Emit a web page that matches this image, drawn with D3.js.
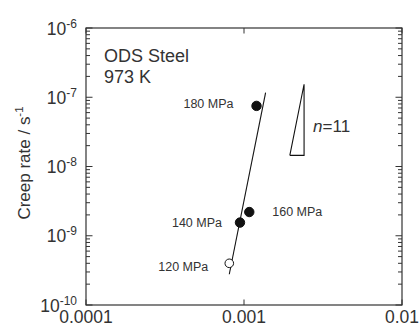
<!DOCTYPE html>
<html>
<head>
<meta charset="utf-8">
<script src="https://cdn.jsdelivr.net/npm/d3@7"></script>
<style>
	body { margin: 0; background: #fff; }
	text { font-family: "Liberation Sans", Arial, sans-serif; fill: #333; }
</style>
</head>
<body>
<div id="chart"></div>
<script>
const WIDTH = 419, HEIGHT = 331;
const MARGIN = {top: 28, right: 17, bottom: 26, left: 86};

// data
const stressLabels = ["180 MPa", "160 MPa", "140 MPa", "120 MPa"];
const xValues = [0.00120, 0.00108, 0.000943, 0.000807];
const creepRate = [7.5e-8, 2.2e-9, 1.55e-9, 4.0e-10];
const filled = [true, true, true, false];
const fitX = [0.000807, 0.00137];
const fitY = [2.78e-10, 1.17e-7];
const slopeX = [0.00195, 0.00240];
const slopeY = [1.45e-8, 1.54e-7];
const xTicks = [0.0001, 0.001, 0.01];
const xTickLabels = ["0.0001", "0.001", "0.01"];
const yTicks = [1e-10, 1e-9, 1e-8, 1e-7, 1e-6];
const yTickExps = ["-10", "-9", "-8", "-7", "-6"];

// where each label sits relative to its point
const labelPlace = [
	{anchor: "end", dx: -23, dy: -2},
	{anchor: "start", dx: 23, dy: 0},
	{anchor: "end", dx: -18, dy: 0},
	{anchor: "end", dx: -21, dy: 3}
];

const w = WIDTH - MARGIN.left - MARGIN.right;
const h = HEIGHT - MARGIN.top - MARGIN.bottom;

const x = d3.scaleLog().domain([0.0001, 0.01]).range([0, w]);
const y = d3.scaleLog().domain([1e-10, 1e-6]).range([h, 0]);

const svg = d3.select("#chart").append("svg")
	.attr("width", WIDTH)
	.attr("height", HEIGHT);
const g = svg.append("g")
	.attr("transform", `translate(${MARGIN.left},${MARGIN.top})`);

// minor ticks on y, 2..9 in every decade
const yMinor = [];
for (let e = -10; e < -6; e++) {
	for (let m = 2; m <= 9; m++) yMinor.push(m * Math.pow(10, e));
}

// left and right ticks (inward)
[0, w].forEach((x0) => {
	const dir = x0 === 0 ? 1 : -1;
	g.selectAll(null).data(yTicks).enter().append("line")
		.attr("x1", x0).attr("x2", x0 + dir * 6.5)
		.attr("y1", (d) => y(d)).attr("y2", (d) => y(d))
		.attr("stroke", "#333").attr("stroke-width", 1);
	g.selectAll(null).data(yMinor).enter().append("line")
		.attr("x1", x0).attr("x2", x0 + dir * 4)
		.attr("y1", (d) => y(d)).attr("y2", (d) => y(d))
		.attr("stroke", "#333").attr("stroke-width", 1);
});

// bottom and top ticks (inward)
[h, 0].forEach((y0) => {
	const dir = y0 === 0 ? 1 : -1;
	g.selectAll(null).data(xTicks).enter().append("line")
		.attr("x1", (d) => x(d)).attr("x2", (d) => x(d))
		.attr("y1", y0).attr("y2", y0 + dir * 5.5)
		.attr("stroke", "#333").attr("stroke-width", 1);
});

// frame
g.append("rect")
	.attr("width", w).attr("height", h)
	.attr("fill", "none").attr("stroke", "#333").attr("stroke-width", 1.2);

// x tick labels
g.selectAll(null).data(xTicks).enter().append("text")
	.attr("x", (d) => x(d))
	.attr("y", h + 18)
	.attr("text-anchor", "middle")
	.style("font-size", "17.5px")
	.text((d, i) => xTickLabels[i]);

// y tick labels as 10^n
const yl = g.selectAll(null).data(yTicks).enter().append("text")
	.attr("x", -9)
	.attr("y", (d) => y(d) + 6.5)
	.attr("text-anchor", "end")
	.style("font-size", "17.5px");
yl.append("tspan").text("10");
yl.append("tspan")
	.attr("dy", -7)
	.style("font-size", "12px")
	.text((d, i) => yTickExps[i]);

// y axis title
const yt = svg.append("text")
	.attr("transform", `translate(30,163) rotate(-90)`)
	.attr("text-anchor", "middle")
	.style("font-size", "17px");
yt.append("tspan").text("Creep rate / s");
yt.append("tspan").attr("dy", -7).style("font-size", "11.5px").text("-1");

// inset text
g.append("text").attr("x", 18).attr("y", 34).style("font-size", "18px").text("ODS Steel");
g.append("text").attr("x", 18).attr("y", 55).style("font-size", "18px").text("973 K");

// fit line
const line = d3.line().x((d) => x(d[0])).y((d) => y(d[1]));
g.append("path")
	.datum(d3.zip(fitX, fitY))
	.attr("d", line)
	.attr("fill", "none").attr("stroke", "#111").attr("stroke-width", 1.1);

// slope triangle
g.append("path")
	.datum([[slopeX[0], slopeY[0]], [slopeX[1], slopeY[1]], [slopeX[1], slopeY[0]], [slopeX[0], slopeY[0]]])
	.attr("d", line)
	.attr("fill", "none").attr("stroke", "#111").attr("stroke-width", 1.1);

const nt = g.append("text")
	.attr("x", x(slopeX[1]) + 9)
	.attr("y", y(Math.sqrt(slopeY[0] * slopeY[1])) + 12)
	.style("font-size", "17px");
nt.append("tspan").style("font-style", "italic").text("n");
nt.append("tspan").text("=11");

// points
const pts = d3.range(xValues.length);
g.selectAll("circle").data(pts).enter().append("circle")
	.attr("cx", (i) => x(xValues[i]))
	.attr("cy", (i) => y(creepRate[i]))
	.attr("r", (i) => filled[i] ? 4.7 : 4.3)
	.attr("fill", (i) => filled[i] ? "#111" : "#fff")
	.attr("stroke", "#111").attr("stroke-width", 1);

// point labels
g.selectAll(null).data(pts).enter().append("text")
	.attr("x", (i) => x(xValues[i]) + labelPlace[i].dx)
	.attr("y", (i) => y(creepRate[i]) + labelPlace[i].dy)
	.attr("dy", "0.35em")
	.attr("text-anchor", (i) => labelPlace[i].anchor)
	.style("font-size", "12.5px")
	.text((i) => stressLabels[i]);
</script>
</body>
</html>
